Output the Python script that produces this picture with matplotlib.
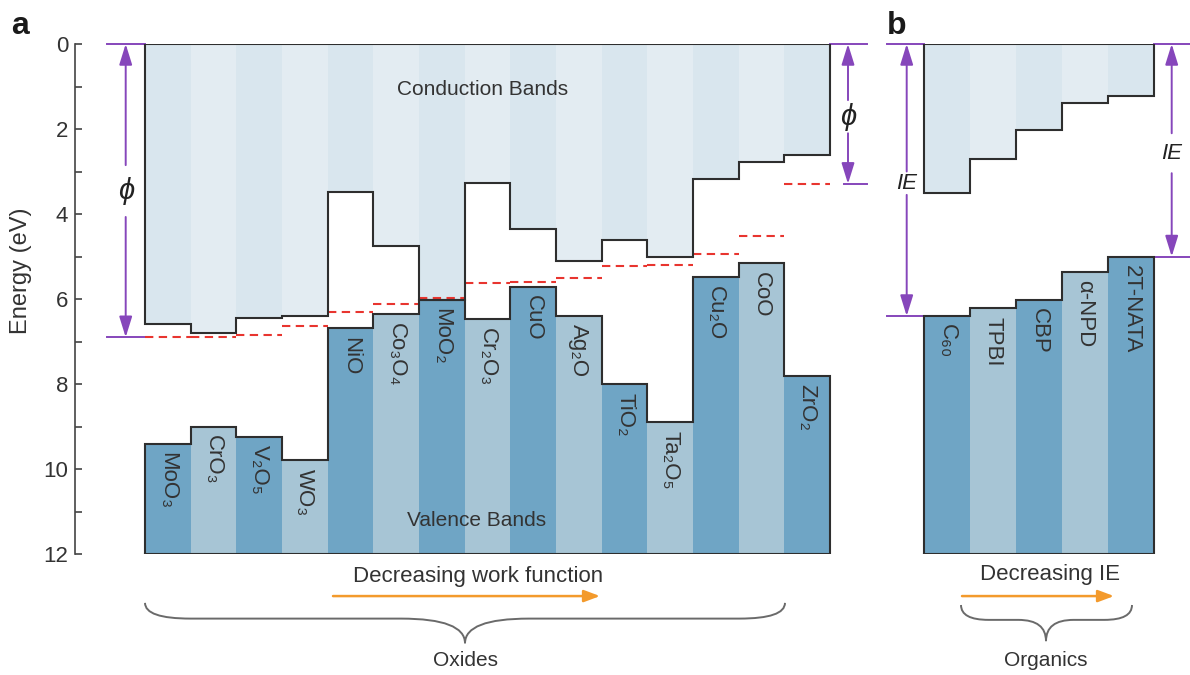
import matplotlib
matplotlib.use('Agg')
import matplotlib.pyplot as plt
from matplotlib.path import Path
from matplotlib.patches import PathPatch, Rectangle

plt.rcParams['font.family'] = ['Liberation Sans', 'DejaVu Sans']

# ---------------- data ----------------
oxide_names = ['MoO₃', 'CrO₃', 'V₂O₅', 'WO₃', 'NiO', 'Co₃O₄', 'MoO₂', 'Cr₂O₃', 'CuO',
               'Ag₂O', 'TiO₂', 'Ta₂O₅', 'Cu₂O', 'CoO', 'ZrO₂']
oxide_cb = [6.59, 6.79, 6.44, 6.39, 3.49, 4.75, 6.02, 3.26, 4.36, 5.10, 4.61, 5.00, 3.18, 2.77, 2.60]
oxide_vb = [9.41, 9.00, 9.24, 9.79, 6.69, 6.36, 6.02, 6.48, 5.71, 6.40, 8.01, 8.90, 5.49, 5.16, 7.81]
oxide_wf = [6.90, 6.89, 6.85, 6.64, 6.31, 6.12, 5.98, 5.62, 5.59, 5.50, 5.22, 5.20, 4.93, 4.51, 3.29]

organic_names = ['C₆₀', 'TPBI', 'CBP', 'α-NPD', '2T-NATA']
organic_lumo = [3.50, 2.71, 2.02, 1.38, 1.22]
organic_homo = [6.40, 6.22, 6.02, 5.36, 5.00]

y_ticks = [0, 2, 4, 6, 8, 10, 12]
y_minor = [1, 3, 5, 7, 9, 11]
E_bottom = 12

# ---------------- style ----------------
CB_COLS = ['#d9e6ee', '#e3ecf2']
VB_COLS = ['#6fa5c5', '#a7c5d5']
EDGE = '#2e2e2e'
PURPLE = '#8646bb'
RED = '#e8352f'
ORANGE = '#f39a2c'
TXT = '#333333'
BRACE = '#6a6a6a'

W, H = 1190, 675
fig = plt.figure(figsize=(W / 100, H / 100), dpi=100)
fig.patch.set_facecolor('white')

ua = (830 - 145) / 15.0
ub = (1154 - 924) / 5.0
ax_a = fig.add_axes([75 / W, (H - 554) / H, 800 / W, 510 / H])
ax_b = fig.add_axes([880 / W, (H - 554) / H, 310 / W, 510 / H])
ax_a.set_xlim((75 - 145) / ua, (875 - 145) / ua)
ax_b.set_xlim((880 - 924) / ub, (1190 - 924) / ub)
for ax in (ax_a, ax_b):
    ax.set_ylim(E_bottom, 0)
    ax.set_facecolor('none')
    for s in ('top', 'right', 'bottom'):
        ax.spines[s].set_visible(False)
    ax.set_xticks([])

ax_b.spines['left'].set_visible(False)
ax_b.set_yticks([])

ax_a.spines['left'].set_color('#444444')
ax_a.spines['left'].set_linewidth(1.2)
ax_a.set_yticks(y_ticks)
ax_a.set_yticks(y_minor, minor=True)
ax_a.tick_params(axis='y', which='both', direction='in', length=5, width=1.2,
                 colors='#444444', labelsize=16, labelcolor=TXT, pad=5)
ax_a.set_ylabel('Energy (eV)', fontsize=17, color=TXT)
ax_a.yaxis.set_label_coords(-0.054, 0.555)


def draw_bands(ax, cb, vb, names, label_fs=16):
    n = len(cb)
    for i in range(n):
        ax.add_patch(Rectangle((i, 0), 1, cb[i], fc=CB_COLS[i % 2], ec='none', zorder=1))
        ax.add_patch(Rectangle((i, vb[i]), 1, E_bottom - vb[i], fc=VB_COLS[i % 2], ec='none', zorder=1))
    xs, ys = [0], [0]
    for i in range(n):
        xs += [i, i + 1]
        ys += [cb[i], cb[i]]
    xs += [n, 0]
    ys += [0, 0]
    ax.plot(xs, ys, color=EDGE, lw=1.5, zorder=4, solid_joinstyle='miter')
    xs, ys = [0], [E_bottom]
    for i in range(n):
        xs += [i, i + 1]
        ys += [vb[i], vb[i]]
    xs += [n, 0]
    ys += [E_bottom, E_bottom]
    ax.plot(xs, ys, color=EDGE, lw=1.5, zorder=4, solid_joinstyle='miter')
    for i in range(n):
        ax.text(i + 0.5, vb[i] + 0.2, names[i], rotation=270, rotation_mode='anchor',
                ha='left', va='center', fontsize=label_fs, color=TXT, zorder=5)


def varrow(ax, x, y0, y1, gap_lo, gap_hi, label, fs):
    ap = dict(arrowstyle='-|>,head_length=0.9,head_width=0.28', color=PURPLE, lw=1.4,
              shrinkA=0, shrinkB=0, mutation_scale=14)
    ax.annotate('', xy=(x, y0), xytext=(x, gap_lo), arrowprops=ap, annotation_clip=False)
    ax.annotate('', xy=(x, y1), xytext=(x, gap_hi), arrowprops=ap, annotation_clip=False)
    ax.text(x, (gap_lo + gap_hi) / 2, label, ha='center', va='center', fontsize=fs,
            style='italic', color='#222222')


def hline(ax, x0, x1, y, **kw):
    ax.plot([x0, x1], [y, y], clip_on=False, **kw)


def brace(ax, xl, xr, xm, y0, y1, ytip, de, dm):
    verts = [(xl, y0), (xl, y1), (xl + de, y1),
             (xm - dm, y1), (xm, y1), (xm, ytip),
             (xm, y1), (xm + dm, y1),
             (xr - de, y1), (xr, y1), (xr, y0)]
    codes = [Path.MOVETO, Path.CURVE3, Path.CURVE3,
             Path.LINETO, Path.CURVE3, Path.CURVE3,
             Path.CURVE3, Path.CURVE3,
             Path.LINETO, Path.CURVE3, Path.CURVE3]
    ax.add_patch(PathPatch(Path(verts, codes), fc='none', ec=BRACE, lw=1.4, clip_on=False))


def harrow(ax, x0, x1, y):
    ax.annotate('', xy=(x1, y), xytext=(x0, y), annotation_clip=False,
                arrowprops=dict(arrowstyle='-|>,head_length=0.8,head_width=0.3', color=ORANGE,
                                lw=1.8, shrinkA=0, shrinkB=0, mutation_scale=12))


# ---------------- panel a ----------------
draw_bands(ax_a, oxide_cb, oxide_vb, oxide_names)
for i, wf in enumerate(oxide_wf):
    ax_a.plot([i, i + 1], [wf, wf], color=RED, lw=1.5, dashes=(4, 2.6), zorder=3)

n_ox = len(oxide_cb)
xl_a = (107 - 145) / ua
xr_a = (867 - 145) / ua
hline(ax_a, xl_a, 0, 0, color=PURPLE, lw=1.4)
hline(ax_a, xl_a, 0, oxide_wf[0], color=PURPLE, lw=1.4)
hline(ax_a, n_ox, xr_a, 0, color=PURPLE, lw=1.4)
hline(ax_a, n_ox + 0.3, xr_a, oxide_wf[-1], color=PURPLE, lw=1.4)
varrow(ax_a, (125.7 - 145) / ua, 0, oxide_wf[0], 2.85, 4.07, 'ϕ', 21)
varrow(ax_a, (848 - 145) / ua, 0, oxide_wf[-1], 1.32, 2.1, 'ϕ', 21)

ax_a.text(7.40, 1.08, 'Conduction Bands', ha='center', va='center', fontsize=15, color=TXT)
ax_a.text(7.27, 11.2, 'Valence Bands', ha='center', va='center', fontsize=15, color=TXT)
ax_a.text(7.30, 12.54, 'Decreasing work function', ha='center', va='center', fontsize=16, color=TXT)
harrow(ax_a, (333 - 145) / ua, (600 - 145) / ua, 12.99)
brace(ax_a, 0, (785 - 145) / ua, (465 - 145) / ua, 13.15, 13.52, 14.1, 1.0, 1.4)
ax_a.text((465 - 145) / ua, 14.5, 'Oxides', ha='center', va='center', fontsize=15, color=TXT)

# ---------------- panel b ----------------
draw_bands(ax_b, organic_lumo, organic_homo, organic_names)
n_or = len(organic_lumo)
xl_b = (887 - 924) / ub
xr_b = (1190 - 924) / ub
hline(ax_b, xl_b, 0, 0, color=PURPLE, lw=1.4)
hline(ax_b, xl_b, 0, organic_homo[0], color=PURPLE, lw=1.4)
hline(ax_b, n_or, xr_b, 0, color=PURPLE, lw=1.4)
hline(ax_b, n_or, xr_b, organic_homo[-1], color=PURPLE, lw=1.4)
varrow(ax_b, (906.7 - 924) / ub, 0, organic_homo[0], 3.0, 3.55, 'IE', 16)
varrow(ax_b, (1171.7 - 924) / ub, 0, organic_homo[-1], 2.1, 3.04, 'IE', 16)

ax_b.text((1050 - 924) / ub, 12.49, 'Decreasing IE', ha='center', va='center', fontsize=16, color=TXT)
harrow(ax_b, (962 - 924) / ub, (1114 - 924) / ub, 12.99)
brace(ax_b, (961 - 924) / ub, (1132 - 924) / ub, (1046 - 924) / ub, 13.2, 13.55, 14.05, 0.6, 0.6)
ax_b.text((1046 - 924) / ub, 14.5, 'Organics', ha='center', va='center', fontsize=15, color=TXT)

# panel letters
fig.text(11 / W, 1 - 34 / H, 'a', fontsize=23, fontweight='bold', color='#1a1a1a', va='baseline')
fig.text(887 / W, 1 - 34 / H, 'b', fontsize=23, fontweight='bold', color='#1a1a1a', va='baseline')

fig.savefig('out.png', dpi=100, facecolor='white')
